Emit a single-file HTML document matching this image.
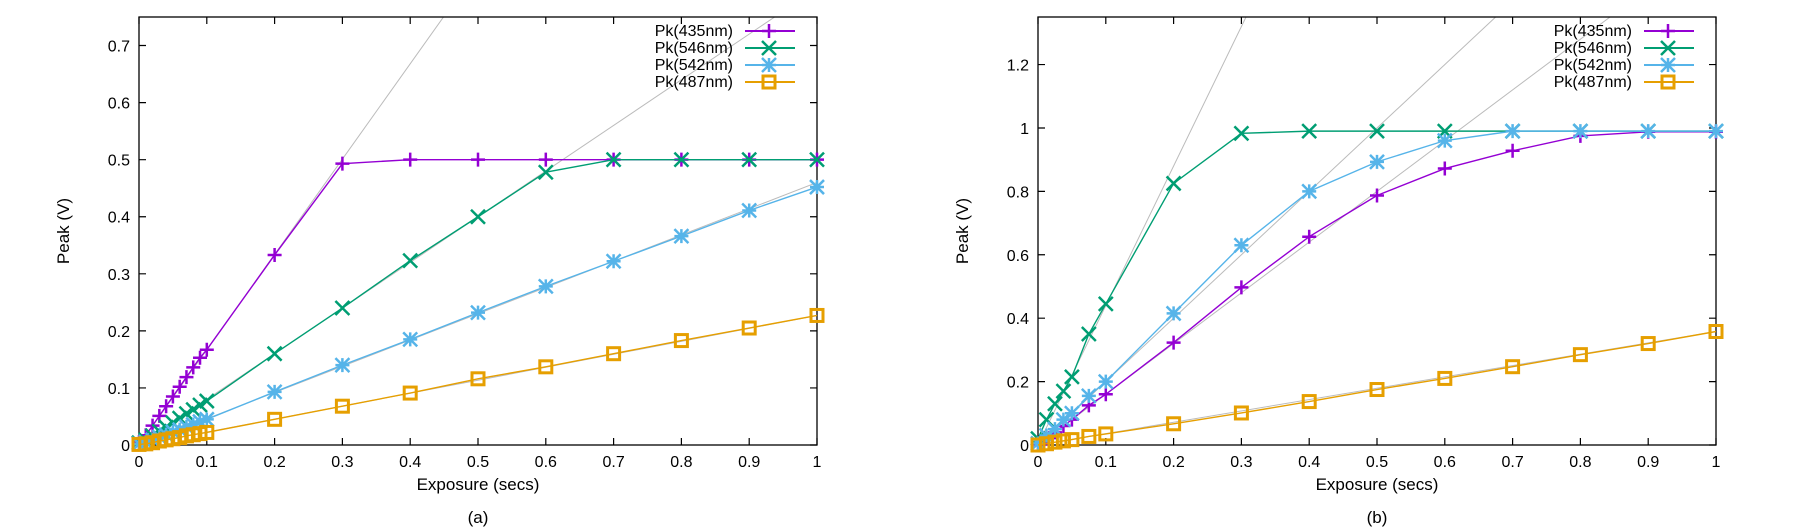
<!DOCTYPE html>
<html><head><meta charset="utf-8">
<style>
body{margin:0;background:#fff;}
svg{display:block;font-family:"Liberation Sans","DejaVu Sans",sans-serif;}
</style></head>
<body>
<svg id="chart" width="1800" height="532" viewBox="0 0 1800 532" xmlns="http://www.w3.org/2000/svg"></svg>
<script>
// ---- Data: panel (a)
const aX = [0,0.01,0.02,0.03,0.04,0.05,0.06,0.07,0.08,0.09,0.1,0.2,0.3,0.4,0.5,0.6,0.7,0.8,0.9,1.0];
const a435 = [0.005,0.017,0.034,0.051,0.068,0.085,0.102,0.119,0.136,0.153,0.167,0.333,0.493,0.5,0.5,0.5,0.5,0.5,0.5,0.5];
const a546 = [0.004,0.009,0.016,0.024,0.031,0.039,0.047,0.055,0.062,0.07,0.077,0.16,0.24,0.323,0.4,0.478,0.5,0.5,0.5,0.5];
const a542 = [0.002,0.005,0.009,0.014,0.018,0.023,0.027,0.032,0.036,0.041,0.045,0.093,0.14,0.185,0.232,0.278,0.322,0.366,0.411,0.452];
const a487 = [0.001,0.002,0.004,0.007,0.009,0.011,0.013,0.016,0.018,0.02,0.022,0.045,0.068,0.091,0.116,0.137,0.16,0.183,0.205,0.227];
const aFitSlopes = [1.67,0.8,0.46,0.227];
const aYTicks = [0,0.1,0.2,0.3,0.4,0.5,0.6,0.7];
const aYMax = 0.75;
// ---- Data: panel (b)
const bX = [0,0.0125,0.025,0.0375,0.05,0.075,0.1,0.2,0.3,0.4,0.5,0.6,0.7,0.8,0.9,1.0];
const b435 = [0.002,0.02,0.04,0.06,0.08,0.125,0.16,0.323,0.497,0.657,0.787,0.872,0.928,0.975,0.988,0.988];
const b546 = [0.02,0.08,0.13,0.17,0.215,0.35,0.445,0.825,0.983,0.99,0.99,0.99,0.99,0.99,0.99,0.99];
const b542 = [0.005,0.03,0.05,0.08,0.1,0.155,0.2,0.415,0.63,0.8,0.893,0.96,0.99,0.99,0.99,0.99];
const b487 = [0,0.004,0.009,0.013,0.017,0.027,0.035,0.067,0.101,0.137,0.175,0.21,0.247,0.285,0.32,0.358];
const bFitSlopes = [1.6,4.4,2.0,0.358];
const bYTicks = [0,0.2,0.4,0.6,0.8,1,1.2];
const bYMax = 1.35;
const xTicks = [0,0.1,0.2,0.3,0.4,0.5,0.6,0.7,0.8,0.9,1];
const seriesNames = ['Pk(435nm)','Pk(546nm)','Pk(542nm)','Pk(487nm)'];
const colors = ['#9400d3','#009e73','#56b4e9','#e69f00'];
const markers = ['plus','cross','star','square'];

const NS='http://www.w3.org/2000/svg';
const svg=document.getElementById('chart');
function mk(tag,attrs,parent){const e=document.createElementNS(NS,tag);for(const k in attrs)e.setAttribute(k,attrs[k]);(parent||svg).appendChild(e);return e;}

function marker(g,type,cx,cy,col){
  const s=7;
  if(type==='plus'){
    mk('path',{d:`M${cx-s} ${cy}H${cx+s}M${cx} ${cy-s}V${cy+s}`,stroke:col,'stroke-width':2.5,fill:'none'},g);
  }else if(type==='cross'){
    mk('path',{d:`M${cx-s} ${cy-s}L${cx+s} ${cy+s}M${cx-s} ${cy+s}L${cx+s} ${cy-s}`,stroke:col,'stroke-width':2.5,fill:'none'},g);
  }else if(type==='star'){
    mk('path',{d:`M${cx-s} ${cy}H${cx+s}M${cx} ${cy-s}V${cy+s}M${cx-s} ${cy-s}L${cx+s} ${cy+s}M${cx-s} ${cy+s}L${cx+s} ${cy-s}`,stroke:col,'stroke-width':2.5,fill:'none'},g);
  }else{
    mk('rect',{x:cx-s+1,y:cy-s+1,width:2*s-2,height:2*s-2,stroke:col,'stroke-width':3,fill:'none'},g);
  }
}

function panel(id,left,right,top,bottom,xs,series,slopes,yTicks,yMax,tag){
  const g=mk('g',{});
  
  
  const X=v=>left+(right-left)*v;
  const Y=v=>bottom-(bottom-top)*v/yMax;
  const cp=mk('clipPath',{id:'clip'+id},g);
  mk('rect',{x:left,y:top,width:right-left,height:bottom-top},cp);
  const fits=mk('g',{'clip-path':`url(#clip${id})`},g);
  
  
  slopes.forEach(s=>{
    const l=mk('line',{x1:X(0),y1:Y(0),x2:X(1),y2:Y(s),stroke:'#bbbbbb','stroke-width':1},fits);
    
    
  });
  const fr=mk('rect',{x:left,y:top,width:right-left,height:bottom-top,fill:'none',stroke:'#000','stroke-width':1.3},g);
  
  
  xTicks.forEach(t=>{
    mk('path',{d:`M${X(t)} ${bottom}v-7M${X(t)} ${top}v7`,stroke:'#000','stroke-width':1.2},g);
    const tx=mk('text',{x:X(t),y:bottom+22,'text-anchor':'middle','font-size':16,fill:'#000'},g);
    tx.textContent=String(t);
    
    
  });
  yTicks.forEach(t=>{
    mk('path',{d:`M${left} ${Y(t)}h7M${right} ${Y(t)}h-7`,stroke:'#000','stroke-width':1.2},g);
    const tx=mk('text',{x:left-9,y:Y(t)+6,'text-anchor':'end','font-size':16,fill:'#000'},g);
    tx.textContent=String(t);
    
    
  });
  series.forEach((vals,i)=>{
    const sg=mk('g',{},g);
    
    
    mk('polyline',{points:xs.map((x,j)=>X(x)+','+Y(vals[j])).join(' '),fill:'none',stroke:colors[i],'stroke-width':1.4},sg);
    xs.forEach((x,j)=>marker(sg,markers[i],X(x),Y(vals[j]),colors[i]));
  });
  const lg=mk('g',{},g);
  
  
  seriesNames.forEach((n,i)=>{
    const y=31+i*17;
    const t=mk('text',{x:right-84,y:y+5,'text-anchor':'end','font-size':16,fill:'#000'},lg);
    t.textContent=n;
    
    
    mk('line',{x1:right-72,y1:y,x2:right-22,y2:y,stroke:colors[i],'stroke-width':2},lg);
    marker(lg,markers[i],right-48,y,colors[i]);
  });
  const cx=(left+right)/2;
  const xt=mk('text',{x:cx,y:490,'text-anchor':'middle','font-size':17,fill:'#000'},g);
  xt.textContent='Exposure (secs)';
  
  
  const yt=mk('text',{x:0,y:0,'text-anchor':'middle','font-size':17,fill:'#000',transform:`translate(${left-70},${(top+bottom)/2}) rotate(-90)`},g);
  yt.textContent='Peak (V)';
  
  
  const cap=mk('text',{x:cx,y:523,'text-anchor':'middle','font-size':17,fill:'#000'},g);
  cap.textContent=tag;
  
  
}
panel('a',139,817,17,445,aX,[a435,a546,a542,a487],aFitSlopes,aYTicks,aYMax,'(a)');
panel('b',1038,1716,17,445,bX,[b435,b546,b542,b487],bFitSlopes,bYTicks,bYMax,'(b)');
</script>
</body></html>
